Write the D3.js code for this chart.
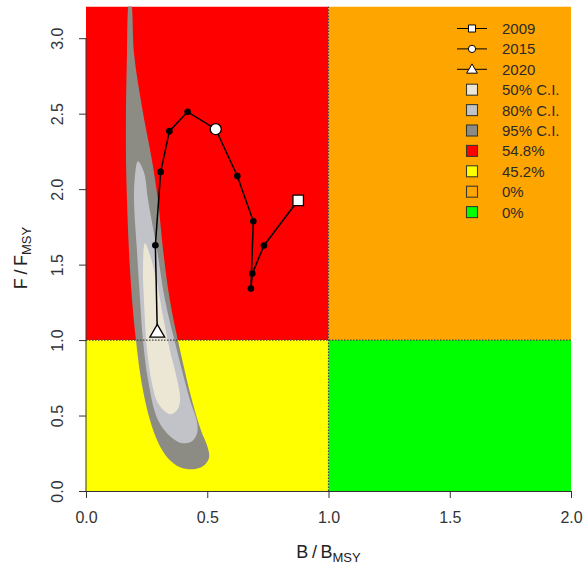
<!DOCTYPE html>
<html>
<head>
<meta charset="utf-8">
<script src="https://cdn.jsdelivr.net/npm/d3@7"></script>
<style>
  body { margin: 0; background: #fff; }
  svg { display: block; }
  text { font-family: "Liberation Sans", Arial, Helvetica, sans-serif; fill: #222; }
</style>
</head>
<body>
<svg id="chart" width="587" height="567"></svg>
<script>
// Kobe plot: stock trajectory B/Bmsy vs F/Fmsy, 2009-2020
const years = [2009, 2010, 2011, 2012, 2013, 2014, 2015, 2016, 2017, 2018, 2019, 2020];
const bRatio = [0.875, 0.734, 0.686, 0.680, 0.690, 0.624, 0.535, 0.419, 0.344, 0.308, 0.286, 0.294];
const fRatio = [1.926, 1.627, 1.441, 1.341, 1.787, 2.087, 2.397, 2.512, 2.384, 2.114, 1.628, 1.054];

// Confidence regions of the terminal-year estimate (closed outlines)
const ci95B = [0.181, 0.190, 0.198, 0.231, 0.272, 0.297, 0.318, 0.346, 0.388, 0.437, 0.474, 0.503, 0.507, 0.482, 0.441,
               0.388, 0.338, 0.297, 0.264, 0.231, 0.206, 0.190, 0.177, 0.169, 0.165, 0.165, 0.169, 0.173];
const ci95F = [3.318, 3.198, 2.900, 2.543, 2.192, 1.926, 1.595, 1.264, 0.932, 0.601, 0.402, 0.283, 0.217, 0.164, 0.144,
               0.157, 0.217, 0.323, 0.468, 0.700, 0.998, 1.264, 1.595, 1.926, 2.192, 2.543, 2.900, 3.198];
const ci80B = [0.214, 0.239, 0.256, 0.293, 0.326, 0.375, 0.429, 0.458, 0.458, 0.437, 0.396, 0.351,
               0.297, 0.256, 0.235, 0.223, 0.210, 0.198, 0.202];
const ci80F = [2.185, 2.112, 1.926, 1.595, 1.264, 0.932, 0.601, 0.456, 0.383, 0.330, 0.317, 0.356,
               0.468, 0.733, 0.998, 1.264, 1.595, 1.926, 2.091];
const ci50B = [0.243, 0.264, 0.293, 0.318, 0.346, 0.379, 0.388, 0.375, 0.346, 0.297, 0.272, 0.252, 0.239, 0.235];
const ci50F = [1.641, 1.562, 1.377, 1.152, 0.932, 0.714, 0.601, 0.535, 0.508, 0.581, 0.714, 0.932, 1.264, 1.483];

// Kobe quadrants: [bMin, bMax, fMin, fMax]
const quadBounds = [[0, 1, 1, 3.21], [0, 1, 0, 1], [1, 2, 1, 3.21], [1, 2, 0, 1]];
const quadColors = ["#ff0000", "#ffff00", "#ffa500", "#00ff00"];

const xTicks = [0, 0.5, 1, 1.5, 2];
const yTicks = [0, 0.5, 1, 1.5, 2, 2.5, 3];

const legendLabels = ["2009", "2015", "2020", "50% C.I.", "80% C.I.", "95% C.I.", "54.8%", "45.2%", "0%", "0%"];
const legendFills = [null, null, null, "#ece7d5", "#c2c2c9", "#8c8b84", "#ff0000", "#ffff00", "#ffa500", "#00ff00"];

const svg = d3.select("#chart");
const margin = { left: 86, right: 16, top: 6.5, bottom: 76 };
const W = 587, H = 567;

const x = d3.scaleLinear().domain([0, 2]).range([margin.left, W - margin.right]);
const y = d3.scaleLinear().domain([0, 3.21]).range([H - margin.bottom, margin.top]);

svg.append("defs").append("clipPath").attr("id", "plotClip")
  .append("rect")
  .attr("x", x(0)).attr("y", y(3.21))
  .attr("width", x(2) - x(0)).attr("height", y(0) - y(3.21));

const plot = svg.append("g").attr("clip-path", "url(#plotClip)");

// Quadrant backgrounds
plot.selectAll("rect.quad")
  .data(quadBounds)
  .join("rect")
  .attr("class", "quad")
  .attr("x", d => x(d[0]))
  .attr("y", d => y(d[3]))
  .attr("width", d => x(d[1]) - x(d[0]))
  .attr("height", d => y(d[2]) - y(d[3]))
  .attr("fill", (d, i) => quadColors[i]);

// Confidence regions
const region = d3.line()
  .x(d => x(d[0]))
  .y(d => y(d[1]))
  .curve(d3.curveCatmullRomClosed.alpha(0.5));

const regions = [
  { b: ci95B, f: ci95F, fill: legendFills[5] },
  { b: ci80B, f: ci80F, fill: legendFills[4] },
  { b: ci50B, f: ci50F, fill: legendFills[3] }
];
regions.forEach(r => {
  plot.append("path")
    .attr("d", region(r.b.map((v, i) => [v, r.f[i]])))
    .attr("fill", r.fill)
    .attr("stroke", "none");
});

// Reference lines at Bmsy and Fmsy
plot.append("line")
  .attr("x1", x(0)).attr("x2", x(2))
  .attr("y1", y(1)).attr("y2", y(1))
  .attr("stroke", "#444").attr("stroke-width", 1.2).attr("stroke-dasharray", "1.5,1.5");
plot.append("line")
  .attr("x1", x(1)).attr("x2", x(1))
  .attr("y1", y(0)).attr("y2", y(3.21))
  .attr("stroke", "#444").attr("stroke-width", 1.2).attr("stroke-dasharray", "1.5,1.5");

// Trajectory
const pts = years.map((yr, i) => ({ yr, b: bRatio[i], f: fRatio[i] }));
plot.append("path")
  .attr("d", d3.line().x(d => x(d.b)).y(d => y(d.f))(pts))
  .attr("fill", "none")
  .attr("stroke", "#000")
  .attr("stroke-width", 1.5);

plot.selectAll("circle.yr")
  .data(pts.filter(d => d.yr !== 2009 && d.yr !== 2015 && d.yr !== 2020))
  .join("circle")
  .attr("class", "yr")
  .attr("cx", d => x(d.b)).attr("cy", d => y(d.f))
  .attr("r", 3.3)
  .attr("fill", "#000");

const markerShape = { 2009: d3.symbolSquare, 2015: d3.symbolCircle, 2020: d3.symbolTriangle };
const markerSize = { 2009: 110, 2015: 95, 2020: 95 };
svg.selectAll("path.marker")
  .data(pts.filter(d => markerShape[d.yr]))
  .join("path")
  .attr("class", "marker")
  .attr("transform", d => `translate(${x(d.b)},${y(d.f) + (d.yr === 2020 ? 1 : 0)})`)
  .attr("d", d => d3.symbol(markerShape[d.yr], markerSize[d.yr])())
  .attr("fill", "#fff")
  .attr("stroke", "#000")
  .attr("stroke-width", 1.3);

// Axes
const axisColor = "#333";
const xAxis = svg.append("g")
  .attr("transform", `translate(0,${y(0)})`)
  .call(d3.axisBottom(x).tickValues(xTicks).tickFormat(d3.format(".1f")).tickSize(7).tickSizeOuter(0).tickPadding(14));
xAxis.select(".domain").attr("stroke", axisColor);
xAxis.selectAll(".tick line").attr("stroke", axisColor);
xAxis.selectAll(".tick text").attr("font-size", 16).style("fill", "#333");

const yAxis = svg.append("g")
  .attr("transform", `translate(${x(0)},0)`)
  .call(d3.axisLeft(y).tickValues(yTicks).tickFormat(d3.format(".1f")).tickSize(7).tickSizeOuter(0));
yAxis.select(".domain").remove();
yAxis.append("line")
  .attr("x1", 0).attr("x2", 0)
  .attr("y1", y(0)).attr("y2", y(3))
  .attr("stroke", axisColor);
yAxis.selectAll(".tick line").attr("stroke", axisColor);
yAxis.selectAll(".tick text")
  .attr("x", null).attr("dy", null)
  .attr("transform", "translate(-23,0) rotate(-90)")
  .attr("text-anchor", "middle")
  .attr("font-size", 16)
  .style("fill", "#333");

// Axis titles (ratio with subscripted reference point)
function ratioTitle(sel, sym) {
  sel.append("tspan").text(sym + "\u2009/\u2009" + sym);
  sel.append("tspan").attr("font-size", 13).attr("dy", 4).text("MSY");
}
svg.append("text")
  .attr("x", x(1)).attr("y", 558)
  .attr("text-anchor", "middle")
  .attr("font-size", 18)
  .call(ratioTitle, "B");

svg.append("text")
  .attr("transform", "translate(27,258) rotate(-90)")
  .attr("text-anchor", "middle")
  .attr("font-size", 18)
  .call(ratioTitle, "F");

// Legend
const legend = svg.append("g").attr("transform", "translate(472,28.5)");
const rowH = 20.4;
const rows = legend.selectAll("g.row")
  .data(legendLabels)
  .join("g")
  .attr("class", "row")
  .attr("transform", (d, i) => `translate(0,${i * rowH})`);

rows.append("text")
  .attr("x", 30).attr("dy", "0.36em")
  .attr("font-size", 15)
  .style("fill", "#2a2a2a")
  .text(d => d);

const legendMarks = [d3.symbolSquare, d3.symbolCircle, d3.symbolTriangle];
const legendMarkSize = [50, 42, 50];
rows.filter((d, i) => i < 3).each(function (d, i) {
  const g = d3.select(this);
  g.append("line").attr("x1", -15).attr("x2", 15).attr("stroke", "#000").attr("stroke-width", 1);
  g.append("path")
    .attr("d", d3.symbol(legendMarks[i], legendMarkSize[i])())
    .attr("transform", i === 2 ? "translate(0,0.8)" : null)
    .attr("fill", "#fff").attr("stroke", "#000").attr("stroke-width", 1);
});
rows.filter((d, i) => i >= 3).append("rect")
  .attr("x", -5.5).attr("y", -5.5)
  .attr("width", 11).attr("height", 11)
  .attr("fill", (d, i) => legendFills[i + 3])
  .attr("stroke", "#3a3a2a").attr("stroke-width", 1.1);
</script>
</body>
</html>
